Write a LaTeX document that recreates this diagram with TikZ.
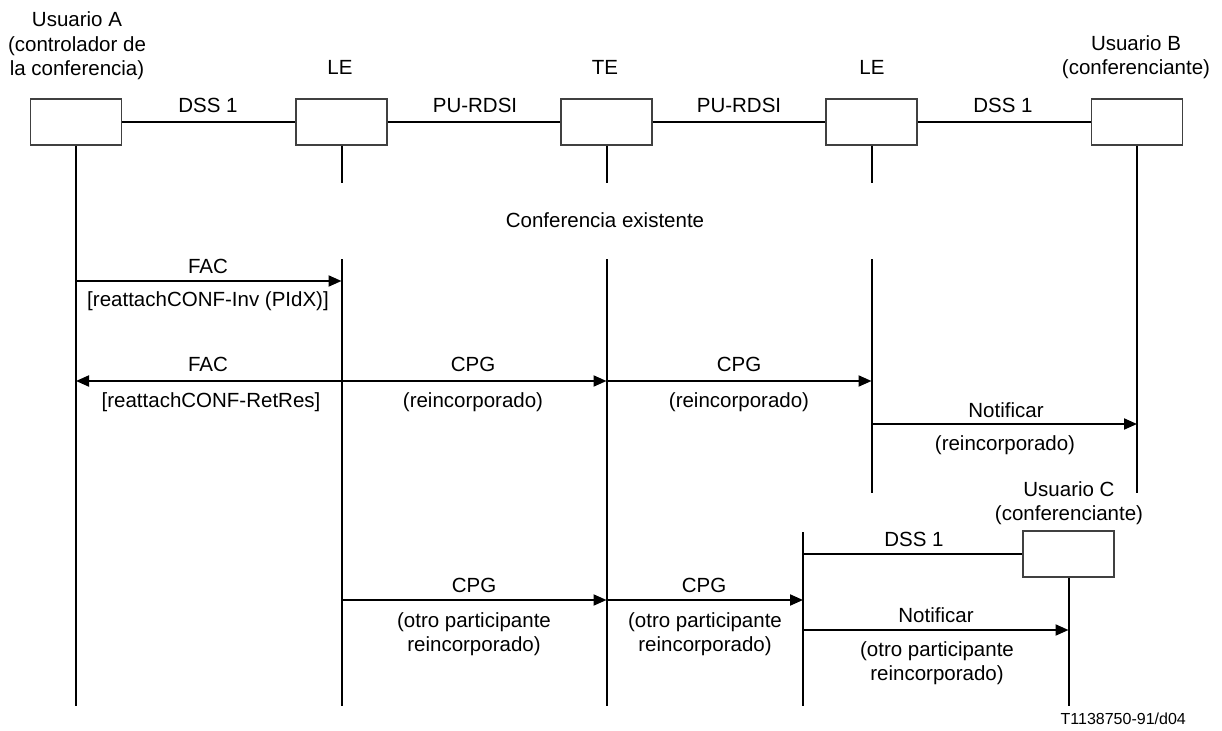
\documentclass[tikz,border=0pt]{standalone}
\usepackage{fontspec}
\setmainfont{Liberation Sans}
\usetikzlibrary{arrows.meta}
\newcommand\fsz{\fontsize{20.5}{24.5}\selectfont}
\newcommand\fszs{\fontsize{16}{19}\selectfont}
\begin{document}
\begin{tikzpicture}[x=1pt,y=-1pt,
  box/.style={draw=black!75,line width=1.1pt,minimum width=91pt,minimum height=46pt,inner sep=0pt,fill=white},
  life/.style={line width=2pt},
  msg/.style={line width=2pt,-{Triangle[length=13pt,width=11pt]}},
  txt/.style={font=\fsz,inner sep=0pt,align=center,anchor=base},
  txtn/.style={font=\fsz,inner sep=0pt,align=center,anchor=north},
]
\useasboundingbox (0,0) rectangle (1222,730);

% boxes
\node[box] (A)   at (76,122) {};
\node[box] (LE1) at (341.5,122) {};
\node[box] (TE)  at (606.5,122) {};
\node[box] (LE2) at (871.5,122) {};
\node[box] (B)   at (1137,122) {};
\node[box] (C)   at (1068.5,554) {};

% helper coordinates
\coordinate (g1) at (0,183);
\coordinate (g2) at (0,259);
\coordinate (bot) at (0,706);
\coordinate (mid) at (0,493);
\coordinate (n1) at (803,532);
\coordinate (n2) at (803,706);

% top connections
\draw[life] (A) -- (LE1);
\draw[life] (LE1) -- (TE);
\draw[life] (TE) -- (LE2);
\draw[life] (LE2) -- (B);

% lifelines
\draw[life] (A.south) -- (A.south |- bot);
\draw[life] (LE1.south) -- (LE1.south |- g1);
\draw[life] (LE1.south |- g2) -- (LE1.south |- bot);
\draw[life] (TE.south) -- (TE.south |- g1);
\draw[life] (TE.south |- g2) -- (TE.south |- bot);
\draw[life] (LE2.south) -- (LE2.south |- g1);
\draw[life] (LE2.south |- g2) -- (LE2.south |- mid);
\draw[life] (B.south) -- (B.south |- mid);
\draw[life] (n1) -- (n2);
\draw[life] (C.south) -- (C.south |- n2);
\draw[life] (n1 |- C) -- (C);

% top labels
\node[txtn] (tA) at (77,11.7) {Usuario A\\(controlador de\\la conferencia)};
\node[txt] (tLE1) at (340,75) {LE};
\node[txt] (tTE) at (605,75) {TE};
\node[txt] (tLE2) at (872,75) {LE};
\node[txtn] (tB) at (1136,35) {Usuario B\\(conferenciante)};
\node[txt] (l1) at (208,113) {DSS 1};
\node[txt] (l2) at (475,113) {PU-RDSI};
\node[txt] (l3) at (739,113) {PU-RDSI};
\node[txt] (l4) at (1003,113) {DSS 1};
\node[txt] (conf) at (605,227) {Conferencia existente};

% row 1
\coordinate (r1) at (0,281);
\draw[msg] (A.south |- r1) -- (LE1.south |- r1);
\node[txt] (m1a) at (208,273) {FAC};
\node[txt] (m1b) at (208,306) {[reattachCONF-Inv (PIdX)]};

% row 2
\coordinate (r2) at (0,381);
\draw[msg] (LE1.south |- r2) -- (A.south |- r2);
\draw[msg] (LE1.south |- r2) -- (TE.south |- r2);
\draw[msg] (TE.south |- r2) -- (LE2.south |- r2);
\node[txt] (m2a) at (208,371) {FAC};
\node[txt] (m2b) at (211,407) {[reattachCONF-RetRes]};
\node[txt] (m3a) at (473,371) {CPG};
\node[txt] (m3b) at (473,407) {(reincorporado)};
\node[txt] (m4a) at (739,371) {CPG};
\node[txt] (m4b) at (739,407) {(reincorporado)};

% row 3
\coordinate (r3) at (0,424);
\draw[msg] (LE2.south |- r3) -- (B.south |- r3);
\node[txt] (m5a) at (1006,417) {Notificar};
\node[txt] (m5b) at (1005,450) {(reincorporado)};

% user C
\node[txtn] (tC) at (1069,481) {Usuario C\\(conferenciante)};
\node[txt] (l5) at (914,546) {DSS 1};

% row 4
\coordinate (r4) at (0,600);
\draw[msg] (LE1.south |- r4) -- (TE.south |- r4);
\draw[msg] (TE.south |- r4) -- (n1 |- r4);
\node[txt] (m6a) at (474,592) {CPG};
\node[txtn] (m6b) at (474,612) {(otro participante\\reincorporado)};
\node[txt] (m7a) at (704,592) {CPG};
\node[txtn] (m7b) at (705,612) {(otro participante\\reincorporado)};

% row 5
\coordinate (r5) at (0,630);
\draw[msg] (n1 |- r5) -- (C.south |- r5);
\node[txt] (m8a) at (936,622) {Notificar};
\node[txtn] (m8b) at (937,641) {(otro participante\\reincorporado)};

% footer
\node[font=\fszs,inner sep=0pt,anchor=base east] (foot) at (1186,724) {T1138750-91/d04};
\end{tikzpicture}
\end{document}
